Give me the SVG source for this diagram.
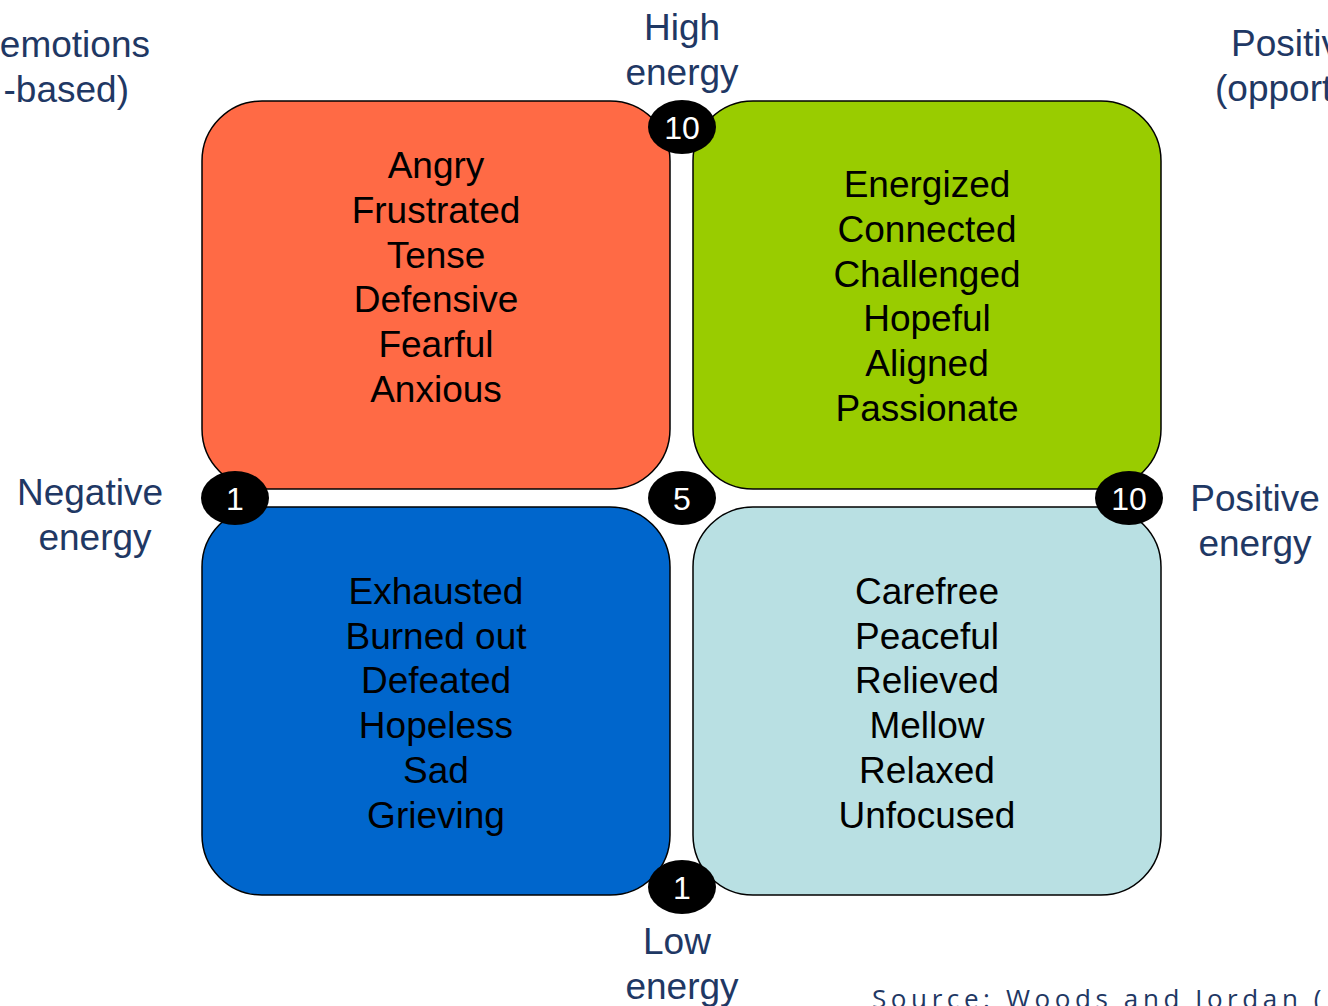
<svg xmlns="http://www.w3.org/2000/svg" width="1328" height="1006" viewBox="0 0 1328 1006">
<style>
.box{stroke:#000;stroke-width:1.5}
.t{font-family:"Liberation Sans",Arial,sans-serif;font-size:37px;fill:#000;text-anchor:middle}
.lab{font-family:"Liberation Sans",Arial,sans-serif;font-size:37px;fill:#1F3864;text-anchor:middle}
.badge{fill:#000}
.n{font-family:"Liberation Sans",Arial,sans-serif;font-size:32px;fill:#fff;text-anchor:middle}
.src{font-family:"Open Sans","Liberation Sans",sans-serif;font-size:26px;fill:#1F3864;letter-spacing:4.6px}
</style>
<rect width="1328" height="1006" fill="#fff"/>
<g id="labels">
<text class="lab" x="682" y="40">High</text>
<text class="lab" x="682" y="85">energy</text>
<text class="lab" x="677" y="954">Low</text>
<text class="lab" x="682" y="999">energy</text>
<text class="lab" x="90" y="505">Negative</text>
<text class="lab" x="95" y="550">energy</text>
<text class="lab" x="1255" y="511">Positive</text>
<text class="lab" x="1255" y="556">energy</text>
<text class="lab" x="150" y="57" style="text-anchor:end">emotions</text>
<text class="lab" x="129" y="102" style="text-anchor:end">-based)</text>
<text class="lab" x="1231" y="56" style="text-anchor:start">Positive</text>
<text class="lab" x="1215" y="101" style="text-anchor:start">(opportunity-based)</text>
<text class="src" x="872" y="1008">Source: Woods and Jordan (</text>
</g>
<g id="q-angry">
<rect class="box" x="202" y="101" width="468" height="388" rx="60" fill="#FF6A45"/>
<text class="t" x="436" y="178">Angry</text>
<text class="t" x="436" y="223">Frustrated</text>
<text class="t" x="436" y="268">Tense</text>
<text class="t" x="436" y="312">Defensive</text>
<text class="t" x="436" y="357">Fearful</text>
<text class="t" x="436" y="402">Anxious</text>
</g>
<g id="q-energized">
<rect class="box" x="693" y="101" width="468" height="388" rx="60" fill="#99CC00"/>
<text class="t" x="927" y="197">Energized</text>
<text class="t" x="927" y="242">Connected</text>
<text class="t" x="927" y="287">Challenged</text>
<text class="t" x="927" y="331">Hopeful</text>
<text class="t" x="927" y="376">Aligned</text>
<text class="t" x="927" y="421">Passionate</text>
</g>
<g id="q-exhausted">
<rect class="box" x="202" y="507" width="468" height="388" rx="60" fill="#0066CC"/>
<text class="t" x="436" y="604">Exhausted</text>
<text class="t" x="436" y="649">Burned out</text>
<text class="t" x="436" y="693">Defeated</text>
<text class="t" x="436" y="738">Hopeless</text>
<text class="t" x="436" y="783">Sad</text>
<text class="t" x="436" y="828">Grieving</text>
</g>
<g id="q-carefree">
<rect class="box" x="693" y="507" width="468" height="388" rx="60" fill="#B9E0E3"/>
<text class="t" x="927" y="604">Carefree</text>
<text class="t" x="927" y="649">Peaceful</text>
<text class="t" x="927" y="693">Relieved</text>
<text class="t" x="927" y="738">Mellow</text>
<text class="t" x="927" y="783">Relaxed</text>
<text class="t" x="927" y="828">Unfocused</text>
</g>
<g id="b-top"><ellipse class="badge" cx="682" cy="127" rx="34" ry="27"/><text class="n" x="682" y="139">10</text></g>
<g id="b-left"><ellipse class="badge" cx="235" cy="498" rx="34" ry="27"/><text class="n" x="235" y="510">1</text></g>
<g id="b-center"><ellipse class="badge" cx="682" cy="498" rx="34" ry="27"/><text class="n" x="682" y="510">5</text></g>
<g id="b-right"><ellipse class="badge" cx="1129" cy="498" rx="34" ry="27"/><text class="n" x="1129" y="510">10</text></g>
<g id="b-bottom"><ellipse class="badge" cx="682" cy="887" rx="34" ry="27"/><text class="n" x="682" y="899">1</text></g>
<g id="connectors"></g>
</svg>
